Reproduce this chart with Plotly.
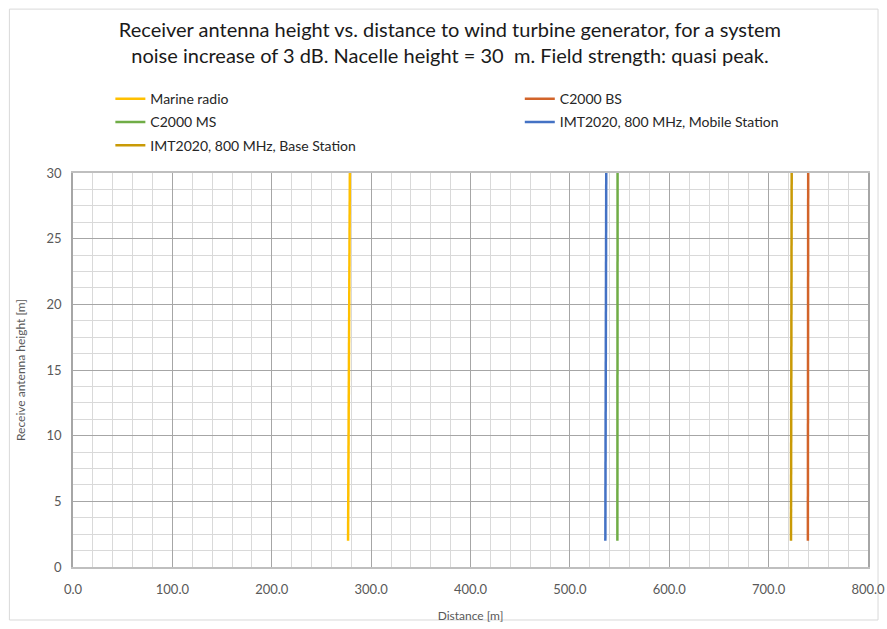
import plotly.graph_objects as go

heights = [2, 30]
marine_radio = [276.8, 278.6]
c2000_bs = [739.5, 739.8]
c2000_ms = [547.8, 548.0]
imt_ms = [535.7, 536.6]
imt_bs = [722.5, 723.2]

series = [
    ("Marine radio", marine_radio, "#FFC000", "legend"),
    ("C2000 BS", c2000_bs, "#D2642A", "legend2"),
    ("C2000 MS", c2000_ms, "#70AD47", "legend"),
    ("IMT2020, 800 MHz, Mobile Station", imt_ms, "#4472C4", "legend2"),
    ("IMT2020, 800 MHz, Base Station", imt_bs, "#C99A06", "legend"),
]

x_ticks = [0, 100, 200, 300, 400, 500, 600, 700, 800]
y_ticks = [0, 5, 10, 15, 20, 25, 30]

fig = go.Figure()
for i, (name, xs, col, lg) in enumerate(series):
    fig.add_trace(go.Scatter(x=xs, y=heights, mode="lines", name=name,
                             legend=lg, legendgroup=f"g{i}",
                             line=dict(color=col, width=2.5)))

font = "Lato, Calibri, Carlito, sans-serif"
leg_common = dict(orientation="v", xanchor="left", yanchor="top",
                  traceorder="grouped", tracegroupgap=2,
                  font=dict(size=14, color="#262626", family=font),
                  itemwidth=30, bgcolor="rgba(0,0,0,0)")
fig.update_layout(
    width=887, height=629,
    margin=dict(l=73, r=19, t=173, b=62),
    paper_bgcolor="white", plot_bgcolor="white",
    font=dict(family=font, color="#404040"),
    title=dict(text="Receiver antenna height vs. distance to wind turbine generator, for a system<br>noise increase of 3 dB. Nacelle height = 30  m. Field strength: quasi peak.",
               x=0.5073, xanchor="center", y=1 - 36.6 / 629, yanchor="top",
               font=dict(size=20, color="#1a1a1a", family=font)),
    legend=dict(x=0.047, y=1.228, **leg_common),
    legend2=dict(x=0.562, y=1.228, **leg_common),
    showlegend=True,
)
fig.update_xaxes(range=[0, 800], tickvals=x_ticks,
                 ticktext=[f"{v:.1f}" for v in x_ticks],
                 showgrid=True, gridcolor="#A6A6A6", gridwidth=1.3,
                 minor=dict(dtick=20, showgrid=True, gridcolor="#D9D9D9", gridwidth=1),
                 showline=True, linecolor="#BFBFBF", linewidth=1.5, mirror=True,
                 zeroline=False, ticks="", ticklabelstandoff=10, automargin=False,
                 ticklabeloverflow="allow",
                 tickfont=dict(size=13, color="#595959"),
                 title=dict(text="Distance [m]", font=dict(size=12, color="#595959"), standoff=15))
fig.update_yaxes(range=[0, 30], tickvals=y_ticks,
                 showgrid=True, gridcolor="#A6A6A6", gridwidth=1.3,
                 minor=dict(dtick=1.25, showgrid=True, gridcolor="#D9D9D9", gridwidth=1),
                 showline=True, linecolor="#A6A6A6", linewidth=1.5, mirror=True,
                 zeroline=False, ticks="", ticklabelstandoff=7, automargin=False,
                 tickfont=dict(size=13, color="#595959"),
                 title=dict(text="Receive antenna height [m]", font=dict(size=12, color="#595959"), standoff=18))

fig.add_shape(type="rect", xref="paper", yref="paper",
              x0=-0.08, x1=1.0126, y0=-0.1345, y1=1.416,
              line=dict(color="#D9D9D9", width=1), layer="below")

fig.write_html("out.html", config={"displayModeBar": False},
               post_script="document.body.style.margin='0';document.body.style.overflow='hidden';")
